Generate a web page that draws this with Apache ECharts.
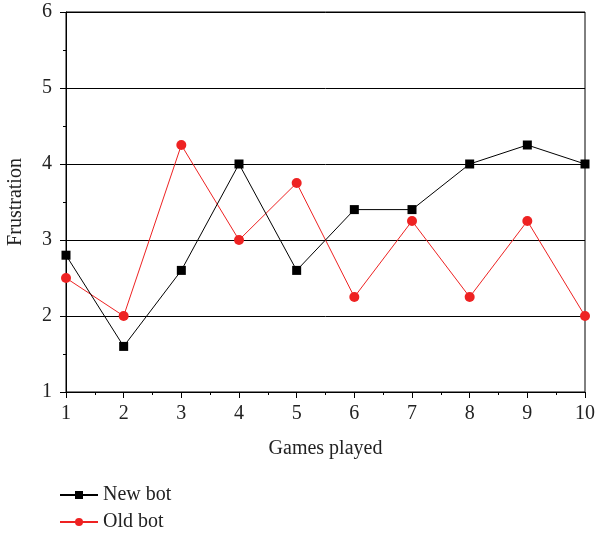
<!DOCTYPE html>
<html><head><meta charset="utf-8">
<script src="https://cdn.jsdelivr.net/npm/echarts@6/dist/echarts.min.js"></script>
<style>html,body{margin:0;padding:0;background:#fff}#c{width:596px;height:535px}</style>
</head><body><div id="c"></div>
<script>
const games = [1,2,3,4,5,6,7,8,9,10];
const newBot = [2.8,1.6,2.6,4.0,2.6,3.4,3.4,4.0,4.25,4.0];
const oldBot = [2.5,2.0,4.25,3.0,3.75,2.25,3.25,2.25,3.25,2.0];
const FONT = '"Liberation Serif", "DejaVu Serif", serif';
const chart = echarts.init(document.getElementById('c'), null, {renderer:'canvas'});
chart.setOption({
  animation:false,
  backgroundColor:'#fff',
  textStyle:{fontFamily:FONT},
  grid:{left:66,right:11,top:12,bottom:143,show:true,borderColor:'#000',borderWidth:1,
        containLabel:false,outerBoundsMode:'none'},
  legend:{
    orient:'vertical', left:59, top:485, padding:0, height:50, itemWidth:38, itemHeight:10, itemGap:7,
    textStyle:{fontFamily:FONT,fontSize:20,color:'#222'},
    data:['New bot','Old bot']
  },
  xAxis:{
    type:'value', min:1, max:10, interval:1,
    name:'Games played', nameLocation:'middle', nameGap:47,
    nameTextStyle:{fontFamily:FONT,fontSize:20,color:'#222'},
    axisLine:{onZero:false,lineStyle:{color:'#000'}},
    axisTick:{inside:false,length:6,lineStyle:{color:'#000'}},
    minorTick:{show:true,splitNumber:2,length:3,lineStyle:{color:'#000'}},
    axisLabel:{fontFamily:FONT,fontSize:20,color:'#222',margin:12},
    splitLine:{show:false}
  },
  yAxis:{
    type:'value', min:1, max:6, interval:1,
    name:'Frustration', nameLocation:'middle', nameGap:40,
    nameTextStyle:{fontFamily:FONT,fontSize:20,color:'#222'},
    axisLine:{onZero:false,lineStyle:{color:'#000'}},
    axisTick:{inside:false,length:6,lineStyle:{color:'#000'}},
    minorTick:{show:true,splitNumber:2,length:3,lineStyle:{color:'#000'}},
    axisLabel:{fontFamily:FONT,fontSize:20,color:'#222',margin:14},
    splitLine:{show:true,lineStyle:{color:'#000',width:1}}
  },
  series:[
    {name:'New bot',type:'line',data:games.map((g,i)=>[g,newBot[i]]),
     symbol:'rect',symbolSize:9,itemStyle:{color:'#000'},lineStyle:{color:'#000',width:1},z:3},
    {name:'Old bot',type:'line',data:games.map((g,i)=>[g,oldBot[i]]),
     symbol:'circle',symbolSize:10,itemStyle:{color:'#ee2222'},lineStyle:{color:'#ee2222',width:1},z:2}
  ]
});
</script></body></html>
